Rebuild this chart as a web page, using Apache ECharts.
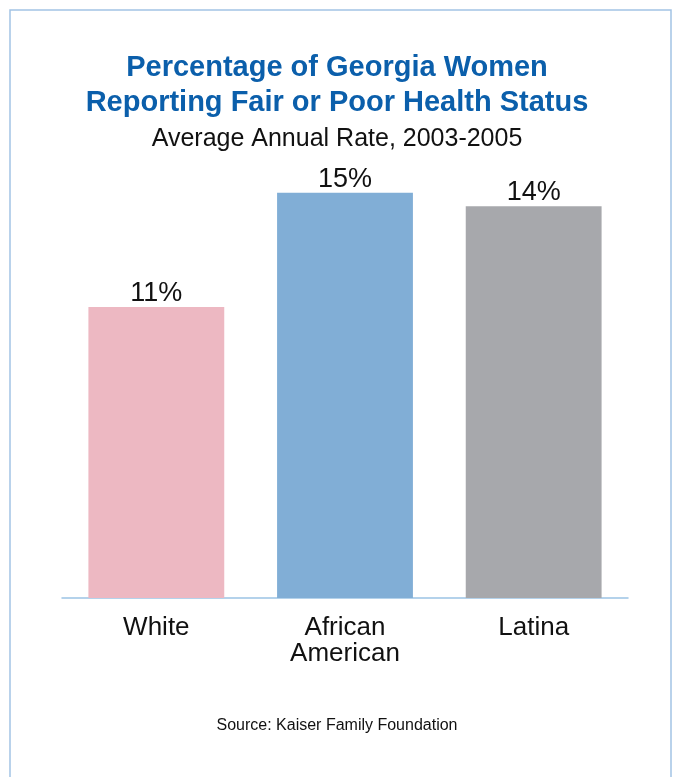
<!DOCTYPE html>
<html>
<head>
<meta charset="utf-8">
<style>html,body{margin:0;padding:0;background:#fff}#c{width:674px;height:777px}</style>
<script src="https://cdn.jsdelivr.net/npm/echarts@6/dist/echarts.min.js"></script>
</head>
<body>
<div id="c"></div>
<script>
var titleLines = ["Percentage of Georgia Women", "Reporting Fair or Poor Health Status"];
var subtitle = "Average Annual Rate, 2003-2005";
var source = "Source: Kaiser Family Foundation";
var categories = ["White", "African\nAmerican", "Latina"];
var values = [10.7, 14.9, 14.4];
var valueLabels = ["11%", "15%", "14%"];
var colors = ["#EDB8C2", "#81AED6", "#A7A8AC"];

var chart = echarts.init(document.getElementById('c'), null, {renderer: 'canvas'});
var FONT = 'Liberation Sans';
chart.setOption({
  animation: false,
  backgroundColor: '#fff',
  graphic: [{
    type: 'rect', silent: true,
    shape: {x: 10, y: 10, width: 661, height: 800},
    style: {fill: 'none', stroke: '#A2C3E5', lineWidth: 1.5}
  }],
  title: [{
    text: titleLines[0],
    left: 'center', top: 51, padding: [0, 0, 0, 9],
    textStyle: {fontFamily: FONT, fontSize: 29, fontWeight: 'bold', color: '#0B5FAB', lineHeight: 34}
  }, {
    text: titleLines[1],
    left: 'center', top: 86, padding: [0, 0, 0, 9],
    textStyle: {fontFamily: FONT, fontSize: 29, fontWeight: 'bold', color: '#0B5FAB', lineHeight: 34}
  }, {
    text: subtitle,
    left: 'center', top: 124, padding: [0, 0, 0, 7],
    textStyle: {fontFamily: FONT, fontSize: 25, fontWeight: 'normal', color: '#111', lineHeight: 30}
  }, {
    text: source,
    left: 'center', top: 716, padding: [0, 0, 0, 6],
    textStyle: {fontFamily: FONT, fontSize: 16, fontWeight: 'normal', color: '#111', lineHeight: 20}
  }],
  grid: {left: 62, right: 46, top: 54, bottom: 179, containLabel: false},
  xAxis: {
    type: 'category', data: categories,
    axisLine: {lineStyle: {color: '#9CC3E5', width: 1.5}},
    axisTick: {show: false},
    axisLabel: {fontFamily: FONT, fontSize: 26, color: '#111', margin: 17, lineHeight: 26, interval: 0}
  },
  yAxis: {
    type: 'value', min: 0, max: 20,
    show: false, splitLine: {show: false}
  },
  series: [{
    type: 'bar', barWidth: '72%',
    data: values.map(function (v, i) { return {value: v, itemStyle: {color: colors[i]}}; }),
    label: {
      show: true, position: 'top', distance: 0,
      fontFamily: FONT, fontSize: 27, color: '#111',
      formatter: function (p) { return valueLabels[p.dataIndex]; }
    }
  }]
});
</script>
</body>
</html>
